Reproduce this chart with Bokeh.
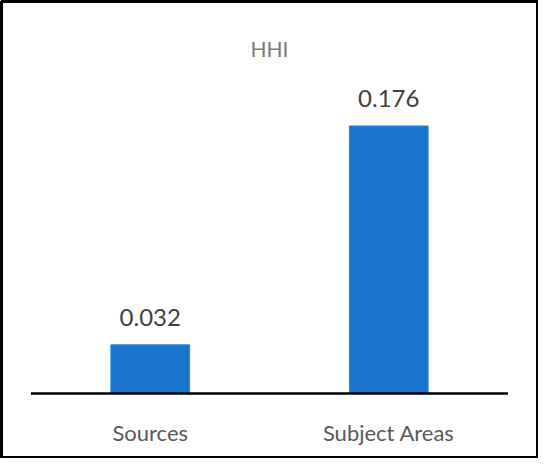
from bokeh.plotting import figure
from bokeh.models import FactorRange, Range1d, ColumnDataSource, LabelSet
from bokeh.core.properties import value
from bokeh.embed import file_html
from bokeh.resources import INLINE

# ---- data ----
title_text = "HHI"
categories = ["Sources", "Subject Areas"]
hhi_values = [0.032, 0.176]
value_labels = ["0.032", "0.176"]

# ---- style ----
BAR_COLOR = "#1874CD"
FONT = "Lato"
PX_PER_UNIT = 1520.0          # vertical scale, pixels per data unit
FRAME_H = 456
BASELINE_FROM_BOTTOM = 64     # px between frame bottom and the zero line

y_start = -BASELINE_FROM_BOTTOM / PX_PER_UNIT
y_end = (FRAME_H - BASELINE_FROM_BOTTOM) / PX_PER_UNIT

p = figure(
    width=538, height=458,
    x_range=FactorRange(factors=categories, range_padding=0.1237,
                        range_padding_units="absolute"),
    y_range=Range1d(y_start, y_end),
    output_backend="svg", toolbar_location=None,
    x_axis_location=None, y_axis_location=None,
    min_border_left=1, min_border_right=1, min_border_top=1, min_border_bottom=1,
)
p.grid.visible = False
p.background_fill_color = "white"
p.border_fill_color = "white"
p.outline_line_color = "black"
p.outline_line_width = 3

src = ColumnDataSource(dict(cat=categories, val=hhi_values, lab=value_labels))

p.vbar(x="cat", top="val", bottom=0, width=0.33, source=src,
       fill_color=BAR_COLOR, line_color="#2A84D8", line_width=1)

# zero baseline across the category area (synthetic coords 0..2)
p.segment(x0=[0], y0=[0], x1=[len(categories)], y1=[0],
          line_color="black", line_width=2.5)

# value labels
labels = LabelSet(x="cat", y="val", text="lab", source=src,
                  y_offset=19, text_align="center", text_baseline="alphabetic",
                  text_font=value(FONT), text_font_size="24px",
                  text_color="#404040")
p.add_layout(labels)

# category labels under the baseline
p.text(x=categories, y=[-39 / PX_PER_UNIT] * len(categories), text=categories,
       text_align="center", text_baseline="alphabetic",
       text_font=value(FONT), text_font_size=value("22px"),
       text_color="#595959")

# title
p.text(x=[len(categories) / 2], y=[345 / PX_PER_UNIT], text=[title_text],
       text_align="center", text_baseline="alphabetic",
       text_font=value(FONT), text_font_size=value("21px"),
       text_color="#7a7a7a")

open("out.html", "w").write(file_html(p, INLINE))
